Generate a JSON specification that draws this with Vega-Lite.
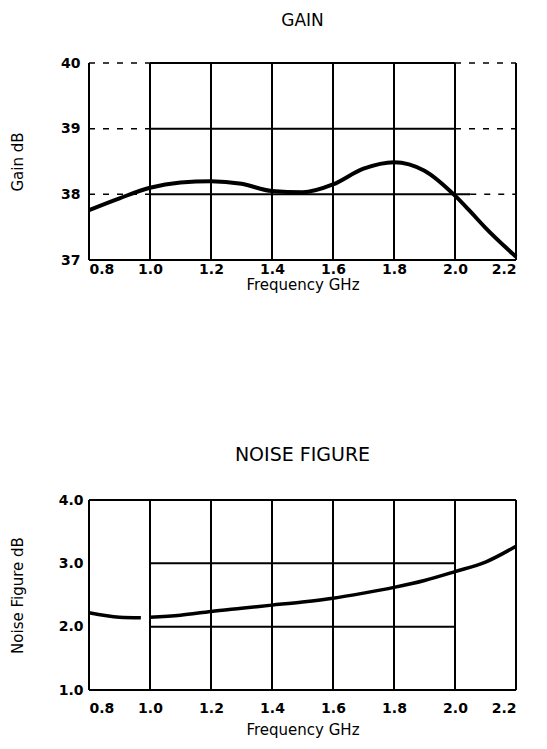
{
  "$schema": "https://vega.github.io/schema/vega-lite/v6.json",
  "background": "white",
  "padding": {"left": 10, "top": 12, "right": 5, "bottom": 5},
  "bounds": "flush",
  "spacing": 240,
  "config": {
    "view": {"stroke": null},
    "font": "DejaVu Sans",
    "title": {"fontWeight": "normal", "color": "black", "font": "DejaVu Sans", "anchor": "middle"},
    "axis": {
      "domain": false, "ticks": false, "grid": false,
      "labelFont": "DejaVu Sans", "labelFontWeight": "bold", "labelFontSize": 14, "labelColor": "black",
      "titleFont": "DejaVu Sans", "titleFontWeight": "normal", "titleFontSize": 15, "titleColor": "black"
    }
  },
  "vconcat": [
    {
      "width": 427, "height": 197,
      "title": {"text": "GAIN", "fontSize": 17, "offset": 26},
      "layer": [
        {
          "data": {"values": [{"f": 0.8}, {"f": 1.0}, {"f": 1.2}, {"f": 1.4}, {"f": 1.6}, {"f": 1.8}, {"f": 2.0}, {"f": 2.2}]},
          "mark": {"type": "rule", "color": "black", "strokeWidth": 2},
          "encoding": {
            "x": {"field": "f", "type": "quantitative", "scale": {"domain": [0.8, 2.2], "nice": false, "zero": false},
                  "axis": {"values": [0.8, 1.0, 1.2, 1.4, 1.6, 1.8, 2.0, 2.2], "format": ".1f", "labelPadding": 2, "title": "Frequency GHz", "titlePadding": 1}}
          }
        },
        {
          "data": {"values": [{"a": 1.0, "b": 2.0, "g": 40}, {"a": 1.0, "b": 2.0, "g": 39}, {"a": 1.0, "b": 2.05, "g": 38}, {"a": 0.8, "b": 2.2, "g": 37}]},
          "mark": {"type": "rule", "color": "black", "strokeWidth": 2},
          "encoding": {
            "x": {"field": "a", "type": "quantitative"},
            "x2": {"field": "b"},
            "y": {"field": "g", "type": "quantitative", "scale": {"domain": [37, 40], "nice": false, "zero": false},
                  "axis": {"values": [37, 38, 39, 40], "format": "d", "labelPadding": 9, "title": "Gain dB", "titlePadding": 35}}
          }
        },
        {
          "data": {"values": [{"a": 0.8, "b": 1.0, "g": 40}, {"a": 2.0, "b": 2.2, "g": 40}, {"a": 0.8, "b": 1.0, "g": 39}, {"a": 2.0, "b": 2.2, "g": 39}, {"a": 0.8, "b": 1.0, "g": 38}, {"a": 2.05, "b": 2.2, "g": 38}]},
          "mark": {"type": "rule", "color": "black", "strokeWidth": 1.5, "strokeDash": [6, 8]},
          "encoding": {
            "x": {"field": "a", "type": "quantitative"},
            "x2": {"field": "b"},
            "y": {"field": "g", "type": "quantitative"}
          }
        },
        {
          "data": {"values": [
            {"f": 0.8, "g": 37.76}, {"f": 0.9, "g": 37.94}, {"f": 1.0, "g": 38.1}, {"f": 1.1, "g": 38.18},
            {"f": 1.2, "g": 38.2}, {"f": 1.3, "g": 38.16}, {"f": 1.4, "g": 38.05}, {"f": 1.5, "g": 38.03},
            {"f": 1.6, "g": 38.15}, {"f": 1.7, "g": 38.39}, {"f": 1.8, "g": 38.49}, {"f": 1.9, "g": 38.36},
            {"f": 2.0, "g": 37.98}, {"f": 2.05, "g": 37.74}, {"f": 2.1, "g": 37.49}, {"f": 2.2, "g": 37.05}
          ]},
          "mark": {"type": "line", "color": "black", "strokeWidth": 4, "interpolate": "monotone"},
          "encoding": {
            "x": {"field": "f", "type": "quantitative"},
            "y": {"field": "g", "type": "quantitative"}
          }
        }
      ]
    },
    {
      "width": 427, "height": 190,
      "title": {"text": "NOISE FIGURE", "fontSize": 19, "offset": 28},
      "layer": [
        {
          "data": {"values": [{"f": 0.8}, {"f": 1.0}, {"f": 1.2}, {"f": 1.4}, {"f": 1.6}, {"f": 1.8}, {"f": 2.0}, {"f": 2.2}]},
          "mark": {"type": "rule", "color": "black", "strokeWidth": 2},
          "encoding": {
            "x": {"field": "f", "type": "quantitative", "scale": {"domain": [0.8, 2.2], "nice": false, "zero": false},
                  "axis": {"values": [0.8, 1.0, 1.2, 1.4, 1.6, 1.8, 2.0, 2.2], "format": ".1f", "labelPadding": 11, "title": "Frequency GHz", "titlePadding": 7}}
          }
        },
        {
          "data": {"values": [{"a": 0.8, "b": 2.2, "n": 4}, {"a": 1.0, "b": 2.0, "n": 3}, {"a": 1.0, "b": 2.0, "n": 2}, {"a": 0.8, "b": 2.2, "n": 1}]},
          "mark": {"type": "rule", "color": "black", "strokeWidth": 2},
          "encoding": {
            "x": {"field": "a", "type": "quantitative"},
            "x2": {"field": "b"},
            "y": {"field": "n", "type": "quantitative", "scale": {"domain": [1, 4], "nice": false, "zero": false},
                  "axis": {"values": [1, 2, 3, 4], "format": ".1f", "labelPadding": 6, "title": "Noise Figure dB", "titlePadding": 33}}
          }
        },
        {
          "data": {"values": [
            {"seg": "a", "f": 0.8, "n": 2.22}, {"seg": "a", "f": 0.9, "n": 2.15}, {"seg": "a", "f": 0.97, "n": 2.14},
            {"seg": "b", "f": 1.0, "n": 2.15}, {"seg": "b", "f": 1.1, "n": 2.18}, {"seg": "b", "f": 1.2, "n": 2.24},
            {"seg": "b", "f": 1.3, "n": 2.29}, {"seg": "b", "f": 1.4, "n": 2.34}, {"seg": "b", "f": 1.5, "n": 2.39},
            {"seg": "b", "f": 1.6, "n": 2.45}, {"seg": "b", "f": 1.7, "n": 2.53}, {"seg": "b", "f": 1.8, "n": 2.62},
            {"seg": "b", "f": 1.9, "n": 2.73}, {"seg": "b", "f": 2.0, "n": 2.87}, {"seg": "b", "f": 2.1, "n": 3.02},
            {"seg": "b", "f": 2.2, "n": 3.27}
          ]},
          "mark": {"type": "line", "color": "black", "strokeWidth": 3.5, "interpolate": "monotone"},
          "encoding": {
            "x": {"field": "f", "type": "quantitative"},
            "y": {"field": "n", "type": "quantitative"},
            "detail": {"field": "seg", "type": "nominal"}
          }
        }
      ]
    }
  ]
}
